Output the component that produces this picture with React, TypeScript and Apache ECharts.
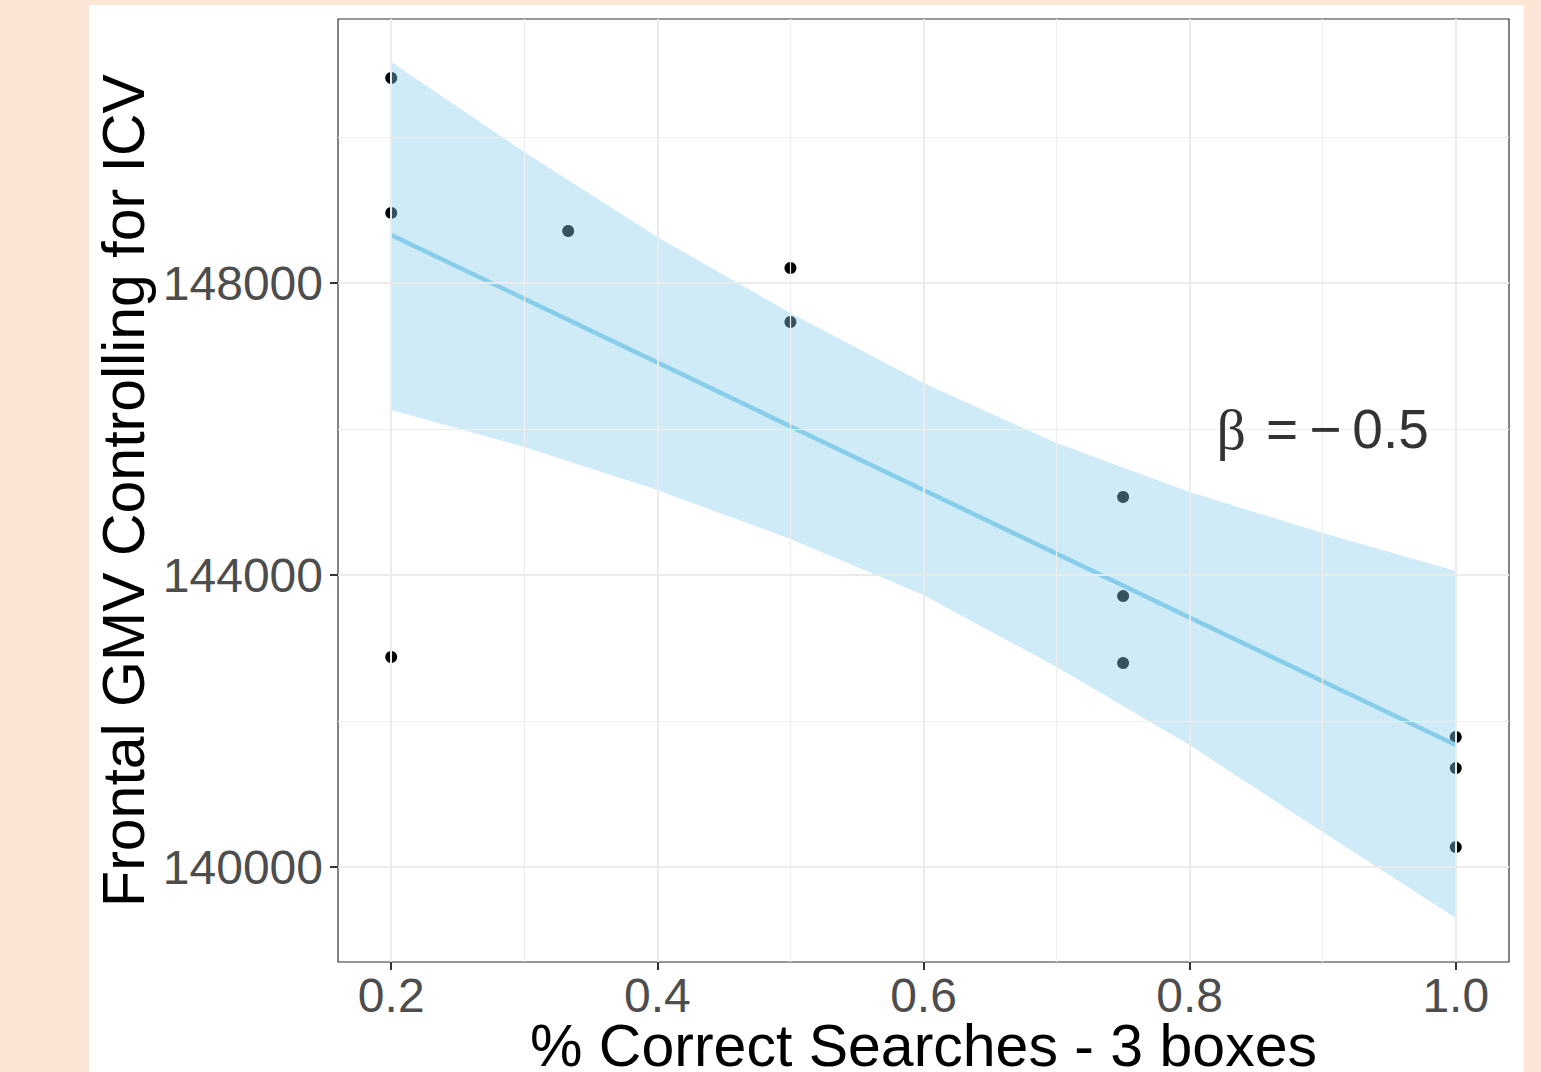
import React, { useEffect, useRef } from "react";
import * as echarts from "echarts";

const pointX = [0.2, 0.2, 0.2, 0.333, 0.5, 0.5, 0.75, 0.75, 0.75, 1.0, 1.0, 1.0];
const pointY = [150808, 148960, 142877, 148712, 148205, 147466, 145068, 143712, 142795, 141781, 141356, 140274];
const fitX = [0.2, 1.0];
const fitY = [148658, 141671];
const bandX = [0.2, 0.3, 0.4, 0.5, 0.6, 0.7, 0.8, 0.9, 1.0];
const bandUpper = [151027, 149795, 148630, 147589, 146630, 145808, 145137, 144575, 144055];
const bandLower = [146260, 145753, 145164, 144493, 143726, 142740, 141671, 140479, 139301];
const xTicks = [0.2, 0.4, 0.6, 0.8, 1.0];
const yTicks = [140000, 144000, 148000];
const xMinorGrid = [0.3, 0.5, 0.7, 0.9];
const yMinorGrid = [142000, 146000, 150000];
const annotX = 0.9;
const annotY = 146000;
const xTitle = "% Correct Searches - 3 boxes";
const yTitle = "Frontal GMV Controlling for ICV";

const SANS = "'Liberation Sans', Arial, sans-serif";

export default function App() {
  const ref = useRef<HTMLDivElement>(null);
  useEffect(() => {
    if (!ref.current) return;
    const chart = echarts.init(ref.current, undefined, { renderer: "svg" });
    const majorStyle = { color: "#EBEBEB", width: 2, type: "solid" as const };
    const minorStyle = { color: "#EEEEEE", width: 1.2, type: "solid" as const };
    const gridLines = [
      ...xMinorGrid.map((v) => ({ xAxis: v, lineStyle: minorStyle })),
      ...yMinorGrid.map((v) => ({ yAxis: v, lineStyle: minorStyle })),
      ...xTicks.map((v) => ({ xAxis: v, lineStyle: majorStyle })),
      ...yTicks.map((v) => ({ yAxis: v, lineStyle: majorStyle })),
    ];
    chart.setOption({
      animation: false,
      backgroundColor: "#FDE5D5",
      graphic: [
        { type: "rect", z: -10, shape: { x: 89, y: 5, width: 1435, height: 1067 }, style: { fill: "#FFFFFF" } },
      ],
      grid: {
        left: 338,
        top: 19,
        right: 32,
        bottom: 110,
        containLabel: false,
        outerBoundsMode: "none",
        show: true,
        backgroundColor: "#FFFFFF",
        borderColor: "#333333",
        borderWidth: 1.2,
      },
      xAxis: {
        type: "value",
        min: 0.16,
        max: 1.04,
        name: xTitle,
        nameLocation: "middle",
        nameGap: 84,
        nameMoveOverlap: false,
        nameTextStyle: { fontFamily: SANS, fontSize: 59, color: "#000000", verticalAlign: "middle" },
        axisLine: { show: false },
        splitLine: { show: false },
        axisTick: { show: true, length: 8, customValues: xTicks, lineStyle: { color: "#333333", width: 2 } },
        axisLabel: {
          customValues: xTicks,
          formatter: (v: number) => v.toFixed(1),
          fontFamily: SANS,
          fontSize: 48,
          color: "#4D4D4D",
          margin: 9,
        },
      },
      yAxis: {
        type: "value",
        min: 138700,
        max: 151616,
        name: yTitle,
        nameLocation: "middle",
        nameGap: 214,
        nameMoveOverlap: false,
        nameRotate: 90,
        nameTextStyle: { fontFamily: SANS, fontSize: 59, color: "#000000", verticalAlign: "middle" },
        axisLine: { show: false },
        splitLine: { show: false },
        axisTick: { show: true, length: 8, customValues: yTicks, lineStyle: { color: "#333333", width: 2 } },
        axisLabel: {
          customValues: yTicks,
          formatter: (v: number) => String(v),
          fontFamily: SANS,
          fontSize: 48,
          color: "#4D4D4D",
          margin: 15,
        },
      },
      series: [
        {
          type: "line",
          data: [[0.2, 140000]],
          showSymbol: false,
          lineStyle: { opacity: 0 },
          silent: true,
          z: 1,
          markLine: {
            silent: true,
            symbol: "none",
            label: { show: false },
            animation: false,
            data: gridLines,
          },
        },
        {
          type: "scatter",
          data: pointX.map((x, i) => [x, pointY[i]]),
          symbolSize: 12,
          itemStyle: { color: "#000000", opacity: 1 },
          z: 2,
        },
        {
          type: "custom",
          z: 3,
          silent: true,
          data: [[bandX[0], bandUpper[0]]],
          renderItem: (_params: any, api: any) => {
            const up = bandX.map((x, i) => api.coord([x, bandUpper[i]]));
            const lo = bandX.map((x, i) => api.coord([x, bandLower[i]])).reverse();
            return {
              type: "polygon",
              shape: { points: [...up, ...lo] },
              style: { fill: "rgba(135,206,235,0.4)", stroke: "none" },
            };
          },
        },
        {
          type: "line",
          z: 4,
          data: fitX.map((x, i) => [x, fitY[i]]),
          showSymbol: false,
          lineStyle: { color: "#87CEEB", width: 4.5 },
          silent: true,
        },
        {
          type: "scatter",
          z: 5,
          data: [[annotX, annotY]],
          symbolSize: 0,
          silent: true,
          itemStyle: { color: "#000000" },
          label: {
            show: true,
            position: [0, 0],
            align: "center",
            verticalAlign: "middle",
            color: "#000000",
            textBorderWidth: 0,
            formatter: "{b|β}{s|\u2009=\u2009−\u20090.5}",
            rich: {
              b: { fontFamily: "'Liberation Serif', 'DejaVu Serif', serif", fontSize: 58, color: "#000000", padding: [0, 9, 0, 0], textBorderWidth: 0 },
              s: { fontFamily: SANS, fontSize: 55, color: "#000000", textBorderWidth: 0 },
            },
          },
        },
      ],
    });
    return () => chart.dispose();
  }, []);
  return <div ref={ref} style={{ position: "fixed", left: 0, top: 0, width: 1541, height: 1072 }} />;
}
